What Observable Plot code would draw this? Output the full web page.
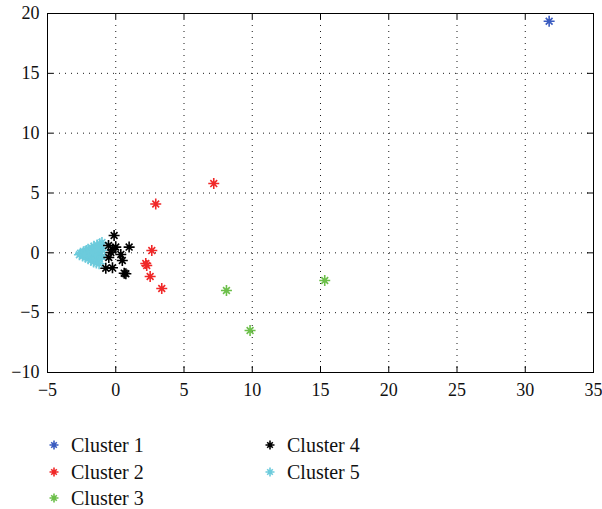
<!DOCTYPE html>
<html><head><meta charset="utf-8">
<script src="https://cdn.jsdelivr.net/npm/d3@7"></script>
<script src="https://cdn.jsdelivr.net/npm/@observablehq/plot@0.6"></script>
<style>
body{margin:0;background:#fff;font-family:"Liberation Serif","DejaVu Serif",serif;}
svg text, svg g[aria-label$="axis tick label"]{font-family:"Liberation Serif","DejaVu Serif",serif !important;}
#chart{height:400px;}
#legend{position:relative;height:109px;}
.item{position:absolute;display:flex;align-items:center;font-size:20px;color:#111;height:26px;line-height:26px;white-space:nowrap;font-family:"Liberation Serif","DejaVu Serif",serif;}
.item svg{margin-right:7px}
</style></head><body>
<div id="chart"></div>
<div id="legend"></div>
<script>
// ---- data ----
const clusterNames = ["Cluster 1", "Cluster 2", "Cluster 3", "Cluster 4", "Cluster 5"];
const clusterColors = ["#3a5bc0", "#f02828", "#6cbf4a", "#000000", "#6ccbdc"];

const cluster1X = [31.75];
const cluster1Y = [19.35];

const cluster2X = [7.18, 2.93, 2.64, 2.27, 2.20, 2.52, 3.37];
const cluster2Y = [5.79, 4.08, 0.19, -1.06, -0.89, -1.98, -2.98];

const cluster3X = [8.11, 9.84, 15.31];
const cluster3Y = [-3.15, -6.49, -2.31];

const cluster4X = [-0.12, -0.53, 0.00, 0.98, -0.36, 0.37, 0.48, -0.73, -0.24, 0.74, -0.51, -0.22, 0.62];
const cluster4Y = [1.45, 0.61, 0.48, 0.48, 0.03, -0.14, -0.64, -1.29, -1.25, -1.75, -0.39, 0.28, -1.70];

const cluster5X = [-2.66, -2.58, -2.43, -2.40, -2.36, -2.22, -2.18, -2.21, -2.15, -2.02, -1.98, -2.01, -1.97, -2.03,
  -1.82, -1.79, -1.84, -1.78, -1.81, -1.77, -1.62, -1.58, -1.63, -1.59, -1.61, -1.57, -1.60,
  -1.42, -1.38, -1.41, -1.37, -1.43, -1.39, -1.36, -1.22, -1.18, -1.21, -1.19, -1.23, -1.17,
  -1.02, -0.98, -1.01, -2.30, -1.90, -1.70, -1.50, -1.30];
const cluster5Y = [-0.16, -0.04, -0.27, -0.06, 0.09, -0.36, -0.14, 0.04, 0.19, -0.49, -0.31, -0.09, 0.11, 0.29,
  -0.61, -0.39, -0.19, 0.02, 0.21, 0.41, -0.76, -0.51, -0.29, -0.11, 0.12, 0.31, 0.54,
  -0.86, -0.61, -0.34, -0.12, 0.16, 0.41, 0.66, -0.91, -0.52, -0.21, 0.09, 0.46, 0.76,
  -0.31, 0.22, 0.86, -0.18, -0.02, 0.05, -0.02, 0.25];

const xTicks = [-5, 0, 5, 10, 15, 20, 25, 30, 35];
const yTicks = [-10, -5, 0, 5, 10, 15, 20];

// ---- build table ----
const seriesX = [cluster1X, cluster2X, cluster3X, cluster4X, cluster5X];
const seriesY = [cluster1Y, cluster2Y, cluster3Y, cluster4Y, cluster5Y];
const rows = clusterNames.map((name, i) => seriesX[i].map((x, j) => ({cluster: name, x, y: seriesY[i][j]})));

const asterisk = {
  draw(context, size) {
    const r = Math.sqrt(size / Math.PI);
    const d = r * 0.62;
    context.moveTo(-r, 0); context.lineTo(r, 0);
    context.moveTo(0, -r); context.lineTo(0, r);
    context.moveTo(-d, -d); context.lineTo(d, d);
    context.moveTo(-d, d); context.lineTo(d, -d);
  }
};

const W = 602, H = 400, mt = 13, mb = 28, ml = 47, mr = 9;
const innerH = H - mt - mb, innerW = W - ml - mr;
const fmt = d => d < 0 ? "\u2212" + Math.abs(d) : String(d);
const drawOrder = [0, 1, 2, 4, 3];
const serif = "'Liberation Serif', 'DejaVu Serif', serif";

const chart = Plot.plot({
  width: W, height: H,
  marginTop: mt, marginBottom: mb, marginLeft: ml, marginRight: mr,
  style: {fontFamily: serif, fontSize: "18px", color: "#111", background: "#fff"},
  x: {domain: [-5, 35]},
  y: {domain: [-10, 20]},
  marks: [
    Plot.gridX(xTicks, {stroke: "#000", strokeOpacity: 0.9, strokeDasharray: "1,5", strokeWidth: 1}),
    Plot.gridY(yTicks, {stroke: "#000", strokeOpacity: 0.9, strokeDasharray: "1,5", strokeWidth: 1}),
    ...drawOrder.map(i => Plot.dot(rows[i], {x: "x", y: "y", symbol: asterisk, r: 5.5, fill: "none", stroke: clusterColors[i], strokeWidth: 1.6})),
    Plot.tickX(xTicks, {x: d => d, insetTop: innerH - 6, stroke: "#000"}),
    Plot.tickX(xTicks, {x: d => d, insetBottom: innerH - 6, stroke: "#000"}),
    Plot.tickY(yTicks, {y: d => d, insetRight: innerW - 6, stroke: "#000"}),
    Plot.tickY(yTicks, {y: d => d, insetLeft: innerW - 6, stroke: "#000"}),
    Plot.frame({stroke: "#000"}),
    Plot.axisX({ticks: xTicks, tickSize: 0, tickPadding: 11, tickFormat: fmt, label: null, fontFamily: serif, fontSize: 18}),
    Plot.axisY({ticks: yTicks, tickSize: 0, tickPadding: 8, tickFormat: fmt, label: null, fontFamily: serif, fontSize: 18})
  ]
});
document.getElementById("chart").appendChild(chart);

// ---- legend ----
const legend = document.getElementById("legend");
const pos = [[44, 32], [44, 58.5], [44, 85], [260, 32], [260, 58.5]];
clusterNames.forEach((name, i) => {
  const div = document.createElement("div");
  div.className = "item";
  div.style.left = pos[i][0] + "px";
  div.style.top = pos[i][1] + "px";
  const svg = d3.create("svg").attr("width", 20).attr("height", 20);
  svg.append("path")
    .attr("transform", "translate(10,10)")
    .attr("d", d3.symbol(asterisk, Math.PI * 4.5 * 4.5)())
    .attr("fill", "none").attr("stroke", clusterColors[i]).attr("stroke-width", 1.6);
  div.appendChild(svg.node());
  div.appendChild(document.createTextNode(name));
  legend.appendChild(div);
});
</script>
</body></html>
